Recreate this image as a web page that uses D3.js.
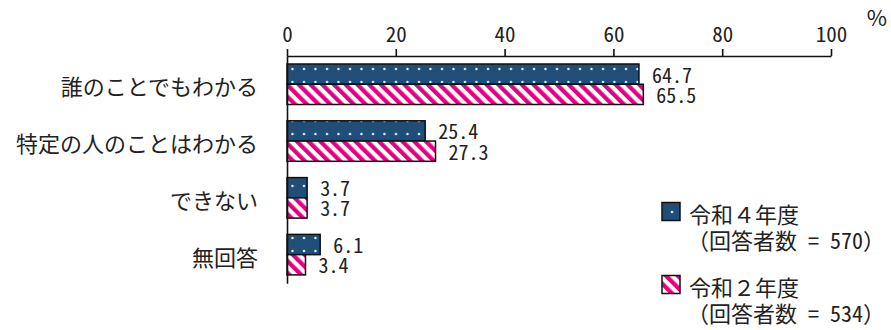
<!DOCTYPE html>
<html>
<head>
<meta charset="utf-8">
<script src="https://cdn.jsdelivr.net/npm/d3@7"></script>
<style>
  html, body { margin: 0; padding: 0; background: #fff; }
  svg { display: block; }
  .hw { font-feature-settings: "hwid" 1; }
</style>
</head>
<body>
<script>
const categories = ["誰のことでもわかる", "特定の人のことはわかる", "できない", "無回答"];
const seriesNames = ["令和４年度", "令和２年度"];
const respondentCounts = [570, 534];
const valuesR4 = [64.7, 25.4, 3.7, 6.1];
const valuesR2 = [65.5, 27.3, 3.7, 3.4];
const xTicks = [0, 20, 40, 60, 80, 100];
const unitLabel = "%";

const W = 891, H = 330;
const FONT = '"Noto Sans CJK JP", "Noto Sans", sans-serif';
const TEXT = "#222";
const NAVY = "#1f4e79";
const MAGENTA = "#e4007f";

const svg = d3.select("body").append("svg").attr("width", W).attr("height", H);

// patterns
const defs = svg.append("defs");
const dots = defs.append("pattern").attr("id", "dots")
  .attr("patternUnits", "userSpaceOnUse").attr("width", 11.5).attr("height", 13);
dots.append("rect").attr("width", 11.5).attr("height", 13).attr("fill", NAVY);
dots.append("circle").attr("cx", 5).attr("cy", 4).attr("r", 1.2).attr("fill", "#eef3f8");

const stripes = defs.append("pattern").attr("id", "stripes")
  .attr("patternUnits", "userSpaceOnUse").attr("width", 8.3).attr("height", 8.3)
  .attr("patternTransform", "rotate(-45)");
stripes.append("rect").attr("width", 8.3).attr("height", 8.3).attr("fill", "#fff");
stripes.append("rect").attr("width", 4.2).attr("height", 8.3).attr("fill", MAGENTA);

const fills = ["url(#dots)", "url(#stripes)"];
const seriesValues = [valuesR4, valuesR2];

const x = d3.scaleLinear().domain([0, 100]).range([287, 831]);
const y = d3.scaleBand().domain(categories).range([55.7, 283.2])
  .paddingInner(0.287).paddingOuter(0.146);
const yInner = d3.scaleBand().domain(seriesNames).range([0, y.bandwidth()]).padding(0);

// bars
seriesNames.forEach((s, si) => {
  const vals = seriesValues[si];
  const g = svg.append("g");
  g.selectAll("rect").data(categories).join("rect")
    .attr("x", x(0))
    .attr("y", (c) => y(c) + yInner(s))
    .attr("width", (c, i) => x(vals[i]) - x(0))
    .attr("height", yInner.bandwidth())
    .attr("fill", fills[si])
    .attr("stroke", "#111").attr("stroke-width", 1.5);
  g.selectAll("text").data(categories).join("text")
    .attr("class", "hw")
    .attr("x", (c, i) => x(vals[i]) + 13)
    .attr("y", (c) => y(c) + yInner(s) + yInner.bandwidth() / 2)
    .attr("dominant-baseline", "central")
    .attr("font-family", FONT).attr("font-size", 20).attr("fill", TEXT)
    .text((c, i) => d3.format(".1f")(vals[i]));
});

// top axis
const xAxis = svg.append("g").attr("transform", "translate(0,56)")
  .call(d3.axisTop(x).tickValues(xTicks).tickSize(7).tickSizeOuter(0).tickPadding(7));
xAxis.select(".domain").attr("stroke", "#111").attr("stroke-width", 1.6);
xAxis.selectAll(".tick line").attr("stroke", "#111").attr("stroke-width", 1.6);
xAxis.selectAll(".tick text").attr("class", "hw")
  .attr("font-family", FONT).attr("font-size", 21).attr("fill", TEXT).attr("dy", 0);

// left axis
const yAxis = svg.append("g").attr("transform", `translate(${x(0)},0)`)
  .call(d3.axisLeft(y).tickSizeInner(0).tickSizeOuter(0).tickPadding(29));
yAxis.select(".domain").attr("stroke", "#111").attr("stroke-width", 1.6);
yAxis.selectAll(".tick text")
  .attr("font-family", FONT).attr("font-size", 22).attr("fill", TEXT)
  .attr("dy", 1).attr("dominant-baseline", "central");

// unit label
svg.append("text").attr("x", 877).attr("y", 16)
  .attr("text-anchor", "middle").attr("dominant-baseline", "central")
  .attr("font-family", FONT).attr("font-size", 22).attr("fill", TEXT)
  .text(unitLabel);

// legend
const legend = svg.append("g");
seriesNames.forEach((s, si) => {
  const top = 202.5 + si * 73;
  legend.append("rect").attr("x", 662).attr("y", top).attr("width", 18).attr("height", 18)
    .attr("fill", fills[si]).attr("stroke", "#111").attr("stroke-width", 1.5);
  legend.append("text").attr("x", 689).attr("y", top + 10.5)
    .attr("dominant-baseline", "central")
    .attr("font-family", FONT).attr("font-size", 22).attr("fill", TEXT)
    .text(s);
  const note = legend.append("text").attr("x", 687).attr("y", top + 36.5)
    .attr("dominant-baseline", "central")
    .attr("font-family", FONT).attr("font-size", 22).attr("fill", TEXT);
  note.append("tspan").text("（回答者数");
  note.append("tspan").attr("class", "hw").text(" = " + respondentCounts[si]);
  note.append("tspan").text("）");
});
</script>
</body>
</html>
